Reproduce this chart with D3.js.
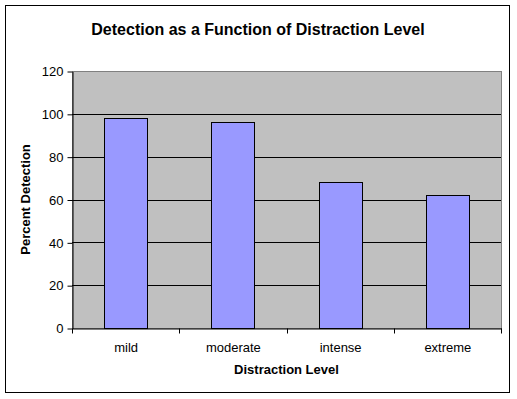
<!DOCTYPE html>
<html>
<head>
<meta charset="utf-8">
<script src="https://cdn.jsdelivr.net/npm/d3@7"></script>
<style>
  html, body { margin: 0; padding: 0; background: #fff; }
  svg { display: block; }
  text { font-family: "Liberation Sans", Arial, sans-serif; }
</style>
</head>
<body>
<svg id="chart" width="517" height="399"></svg>
<script>
const categories = ["mild", "moderate", "intense", "extreme"];
const values = [98, 96, 68, 62];
const yTicks = [0, 20, 40, 60, 80, 100, 120];
const title = "Detection as a Function of Distraction Level";
const xTitle = "Distraction Level";
const yTitle = "Percent Detection";

const svg = d3.select("#chart");
const plot = { left: 72, right: 501, top: 71, bottom: 328 };

// outer border
svg.append("rect").attr("x", 5.5).attr("y", 5.5).attr("width", 504).attr("height", 387)
  .attr("fill", "#fff").attr("stroke", "#000").attr("stroke-width", 1);

const x = d3.scaleBand().domain(categories).range([plot.left, plot.right]).paddingInner(0).paddingOuter(0);
const y = d3.scaleLinear().domain([0, 120]).range([plot.bottom, plot.top]);

// plot area
svg.append("rect").attr("x", plot.left).attr("y", plot.top)
  .attr("width", plot.right - plot.left).attr("height", plot.bottom - plot.top)
  .attr("fill", "#c0c0c0").attr("stroke", "#808080").attr("stroke-width", 1)
  .attr("transform", "translate(0.5,0.5)");

// gridlines
svg.append("g").selectAll("line").data(yTicks.filter(d => d > 0 && d < 120)).join("line")
  .attr("x1", plot.left).attr("x2", plot.right)
  .attr("y1", d => Math.round(y(d)) + 0.5).attr("y2", d => Math.round(y(d)) + 0.5)
  .attr("stroke", "#000").attr("stroke-width", 1);

// bars
const bw = x.bandwidth() * 0.4;
svg.append("g").selectAll("rect").data(values).join("rect")
  .attr("x", (d, i) => Math.round(x(categories[i]) + (x.bandwidth() - bw) / 2) + 0.5)
  .attr("y", d => Math.round(y(d)) + 0.5)
  .attr("width", Math.round(bw))
  .attr("height", d => Math.round(y(0)) - Math.round(y(d)))
  .attr("fill", "#9999ff").attr("stroke", "#000").attr("stroke-width", 1);

// y axis
const yAxis = d3.axisLeft(y).tickValues(yTicks).tickSize(5).tickPadding(4).tickSizeOuter(0);
const gy = svg.append("g").attr("transform", `translate(${plot.left + 0.5},0.5)`).call(yAxis);
gy.selectAll("text").attr("font-size", 13).attr("font-family", "Liberation Sans, Arial, sans-serif").attr("fill", "#000");
gy.select(".domain").attr("stroke", "#000");
gy.selectAll(".tick line").attr("stroke", "#000");

// x axis
const xAxis = d3.axisBottom(x).tickSize(0).tickPadding(14).tickSizeOuter(0);
const gx = svg.append("g").attr("transform", `translate(0.5,${plot.bottom + 0.5})`).call(xAxis);
gx.selectAll("text").attr("font-size", 13).attr("font-family", "Liberation Sans, Arial, sans-serif").attr("fill", "#000");
gx.select(".domain").attr("stroke", "#000");
// boundary ticks
const bounds = categories.map(c => x(c)).concat([plot.right]);
gx.selectAll(".btick").data(bounds).join("line")
  .attr("x1", d => Math.round(d)).attr("x2", d => Math.round(d))
  .attr("y1", 0).attr("y2", 5).attr("stroke", "#000");

// titles
svg.append("text").attr("x", 258).attr("y", 35).attr("text-anchor", "middle")
  .attr("font-size", 16).attr("font-weight", "bold").text(title);
svg.append("text").attr("x", (plot.left + plot.right) / 2).attr("y", 374).attr("text-anchor", "middle")
  .attr("font-size", 13).attr("font-weight", "bold").text(xTitle);
svg.append("text").attr("transform", `translate(30,${(plot.top + plot.bottom) / 2}) rotate(-90)`)
  .attr("text-anchor", "middle").attr("font-size", 13).attr("font-weight", "bold").text(yTitle);
</script>
</body>
</html>
